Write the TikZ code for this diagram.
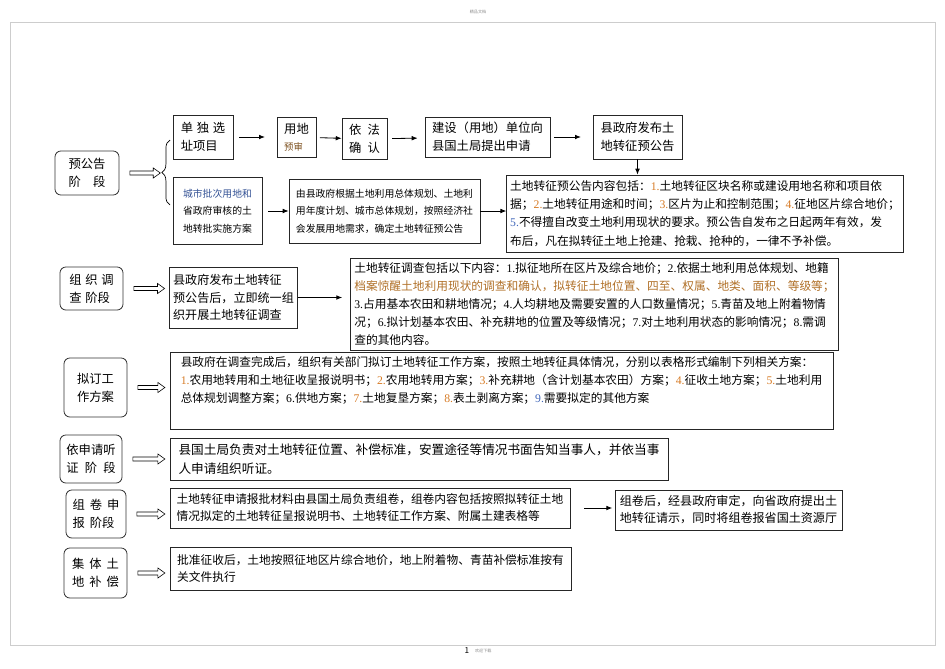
\documentclass[tikz,border=0pt]{standalone}
\usepackage{fontspec}
\setmainfont{Noto Sans CJK SC}
\newfontfamily\numf{Liberation Serif}
\usetikzlibrary{arrows.meta,calc,decorations.pathreplacing}
\definecolor{numc}{RGB}{214,122,36}
\definecolor{numb}{RGB}{66,104,186}
\definecolor{brn}{RGB}{176,112,40}
\definecolor{pageline}{RGB}{205,205,205}
\newcommand{\hn}[1]{{\numf\textcolor{numc}{#1}}}
\newcommand{\bn}[1]{{\numf\textcolor{numb}{#1}}}
\newcommand{\kn}[1]{{\numf #1}}

\begin{document}
\begin{tikzpicture}[x=0.03cm,y=-0.03cm,
    stage/.style={draw=black!80,line width=0.7pt,rounded corners=5pt,align=left,inner sep=2pt,font=\fontsize{10.5}{15.5}\selectfont},
    box/.style={draw=black!85,line width=0.7pt,align=left,inner sep=3pt,font=\fontsize{10}{15.5}\selectfont},
    arr/.style={-{Latex[length=5pt,width=4pt]},line width=0.7pt},
    hollow/.style={to path={let \p1=(\tikztostart), \p2=(\tikztotarget) in
        (\x1+9pt,\y1+1.7pt) -- (\x2-10pt,\y1+1.7pt) -- (\x2-10pt,\y1+4.3pt) -- (\x2-4pt,\y1)
        -- (\x2-10pt,\y1-4.3pt) -- (\x2-10pt,\y1-1.7pt) -- (\x1+9pt,\y1-1.7pt) -- cycle}}]
\useasboundingbox (0,0) rectangle (945,669);
\draw[pageline,line width=0.5pt] (10,22) rectangle (935,645);
\node[font=\fontsize{3.5}{4}\selectfont,text=black!45] (hdr) at (478,12) {精品文档};
\node[font=\fontsize{7}{8}\selectfont] (pg) at (467,651) {1};
\node[font=\fontsize{3.5}{4}\selectfont,text=black!45,anchor=west] (ftr) at (471,651) {欢迎下载};

\begin{scope}[every node/.style={stage}]
    \node[minimum width=1.92cm,minimum height=1.32cm] (s1) at (87,173) {预公告\\阶\quad 段};
    \node[minimum width=1.89cm,minimum height=1.29cm] (s2) at (91.5,288.5) {组\hspace{0.3em}织\hspace{0.3em}调\\查\hspace{0.3em}阶段};
    \node[minimum width=1.89cm,minimum height=1.77cm] (s3) at (95.5,387.5) {拟订工\\作方案};
    \node[minimum width=1.86cm,minimum height=1.44cm] (s4) at (91,459) {依申请听\\证\hspace{0.5em}阶\hspace{0.5em}段};
    \node[minimum width=1.8cm,minimum height=1.44cm] (s5) at (96,514) {组\hspace{0.4em}卷\hspace{0.4em}申\\报\hspace{0.4em}阶段};
    \node[minimum width=1.89cm,minimum height=1.5cm] (s6) at (95.5,573) {集\hspace{0.4em}体\hspace{0.4em}土\\地\hspace{0.4em}补\hspace{0.4em}偿};
\end{scope}

\begin{scope}[every node/.style={box}]
    \node[minimum width=1.8cm,minimum height=1.32cm,font=\fontsize{10.5}{15}\selectfont] (b11) at (203,137) {单\hspace{0.3em}独\hspace{0.3em}选\\址项目};
    \node[minimum width=1.17cm,minimum height=1.2cm,font=\fontsize{10.5}{15}\selectfont] (b12) at (296.5,137) {用地\\{\fontsize{8}{10}\selectfont\textcolor{brn!70!black}{预审}}};
    \node[minimum width=1.35cm,minimum height=1.23cm,font=\fontsize{10.5}{15}\selectfont] (b13) at (364.5,139) {依\hspace{0.5em}法\\确\hspace{0.5em}认};
    \node[minimum width=3.75cm,minimum height=1.2cm,font=\fontsize{10.5}{15}\selectfont] (b14) at (487.5,137) {建设（用地）单位向\\县国土局提出申请};
    \node[minimum width=2.67cm,minimum height=1.32cm,font=\fontsize{10.5}{15}\selectfont] (b15) at (637.5,137) {县政府发布土\\地转征预公告};

    \node[minimum width=2.67cm,minimum height=2.01cm,font=\fontsize{8.4}{15}\selectfont] (b21) at (217.5,211) {\textcolor{numb!80!black}{城市批次用地和}\\省政府审核的土\\地转批实施方案};
    \node[minimum width=5.73cm,minimum height=1.92cm,font=\fontsize{8.4}{15}\selectfont] (b22) at (384.5,211) {由县政府根据土地利用总体规划、土地利\\用年度计划、城市总体规划，按照经济社\\会发展用地需求，确定土地转征预公告};
    \node[minimum width=11.82cm,minimum height=2.31cm] (b23) at (705,213.5) {土地转征预公告内容包括：\hn{1.}土地转征区块名称或建设用地名称和项目依\\据；\hn{2.}土地转征用途和时间；\hn{3.}区片为止和控制范围；\hn{4.}征地区片综合地价；\\\bn{5.}不得擅自改变土地利用现状的要求。预公告自发布之日起两年有效，发\\布后，凡在拟转征土地上抢建、抢栽、抢种的，一律不予补偿。};

    \node[minimum width=3.81cm,minimum height=1.83cm,font=\fontsize{10.3}{15}\selectfont] (b31) at (233.5,297.5) {县政府发布土地转征\\预公告后，立即统一组\\织开展土地转征调查};
    \node[minimum width=14.55cm,minimum height=2.76cm] (b32) at (594.5,304) {土地转征调查包括以下内容：\kn{1.}拟征地所在区片及综合地价；\kn{2.}依据土地利用总体规划、地籍\\\textcolor{brn}{档案惊醒土地利用现状的调查和确认，拟转征土地位置、四至、权属、地类、面积、等级等；}\\\kn{3.}占用基本农田和耕地情况；\kn{4.}人均耕地及需要安置的人口数量情况；\kn{5.}青苗及地上附着物情\\况；\kn{6.}拟计划基本农田、补充耕地的位置及等级情况；\kn{7.}对土地利用状态的影响情况；\kn{8.}需调\\查的其他内容。};

    \node[minimum width=19.89cm,minimum height=1.92cm] (b41) at (501.5,391) {县政府在调查完成后，组织有关部门拟订土地转征工作方案，按照土地转征具体情况，分别以表格形式编制下列相关方案：\\\hn{1.}农用地转用和土地征收呈报说明书；\hn{2.}农用地转用方案；\hn{3.}补充耕地（含计划基本农田）方案；\hn{4.}征收土地方案；\hn{5.}土地利用\\总体规划调整方案；\kn{6.}供地方案；\hn{7.}土地复垦方案；\hn{8.}表土剥离方案；\bn{9.}需要拟定的其他方案\\\strut};

    \node[minimum width=14.94cm,minimum height=1.26cm,font=\fontsize{10.8}{16}\selectfont] (b51) at (419,459) {县国土局负责对土地转征位置、补偿标准，安置途径等情况书面告知当事人，并依当事\\人申请组织听证。};

    \node[minimum width=12cm,minimum height=1.2cm,font=\fontsize{10}{14.5}\selectfont] (b61) at (370,508) {土地转征申请报批材料由县国土局负责组卷，组卷内容包括按照拟转征土地\\情况拟定的土地转征呈报说明书、土地转征工作方案、附属土建表格等};
    \node[minimum width=6.81cm,minimum height=1.2cm,font=\fontsize{10.3}{14.5}\selectfont] (b62) at (728.5,510) {组卷后，经县政府审定，向省政府提出土\\地转征请示，同时将组卷报省国土资源厅};

    \node[minimum width=12.03cm,minimum height=1.29cm,font=\fontsize{10}{14.5}\selectfont] (b71) at (370.5,568.5) {批准征收后，土地按照征地区片综合地价，地上附着物、青苗补偿标准按有\\关文件执行};
\end{scope}

\coordinate (bt) at (165,173);
\draw[line width=0.6pt,decorate,decoration={brace,amplitude=7pt}] (170,205) -- (170,140);

\begin{scope}[every edge/.style={draw=black,arr}]
    \path (b11) edge[shorten <=5pt,shorten >=10pt] (b12);
    \path (b12) edge[shorten <=3pt] (b13);
    \path (b13) edge[shorten <=4pt,shorten >=6pt] (b14);
    \path (b14) edge[shorten <=3pt,shorten >=10pt] (b15);
    \path (b15) edge (b15.south |- b23.north);
    \path (b21) edge[shorten <=5pt] (b21 -| b22.west);
    \path (b22) edge (b22 -| b23.west);
    \path (b31) edge[shorten >=7pt] (b31 -| b32.west);
    \path (b61) edge[shorten <=12pt,shorten >=2pt] (b61 -| b62.west);
\end{scope}

\begin{scope}[every edge/.style={draw=black,line width=0.5pt,hollow}]
    \path (s1.east) edge (bt);
    \path (s2.east) edge (b31.west);
    \path (s3.east) edge (b41.west);
    \path (s4.east) edge (b51.west);
    \path (s5.east) edge (b61.west);
    \path (s6.east) edge (b71.west);
\end{scope}
\end{tikzpicture}
\end{document}
